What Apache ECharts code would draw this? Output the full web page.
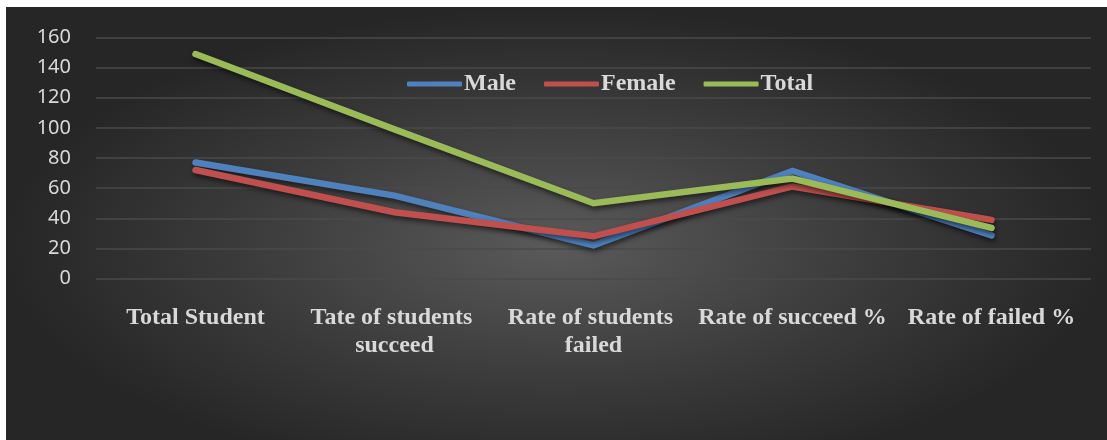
<!DOCTYPE html>
<html lang="en">
<head>
    <meta charset="UTF-8">
    <title>Students chart</title>
    <script src="https://cdn.jsdelivr.net/npm/echarts@6/dist/echarts.min.js"></script>
    <style>
        html, body { margin: 0; padding: 0; background: #ffffff; }
        #box {
            position: absolute; left: 6px; top: 7px; width: 1101px; height: 433px;
            background: radial-gradient(ellipse farthest-side at 50% 55%, #5a5a5a 0%, #3c3c3c 55%, #262626 100%);
        }
    </style>
</head>
<body>
<div id="box"></div>
<script>
    // categories and values
    var categories = ['Total Student', 'Tate of students succeed', 'Rate of students failed', 'Rate of succeed %', 'Rate of failed %'];
    var maleData = [77, 55, 22, 71.4, 28.6];
    var femaleData = [72, 44, 28, 61.1, 38.9];
    var totalData = [149, 99, 50, 66.4, 33.6];
    var yTicks = [0, 20, 40, 60, 80, 100, 120, 140, 160];

    function makeLine(name, data, color) {
        return {
            name: name,
            type: 'line',
            data: data,
            symbol: 'none',
            lineStyle: {
                width: 6.5,
                color: color,
                cap: 'round',
                join: 'miter',
                shadowColor: 'rgba(0,0,0,0.55)',
                shadowBlur: 5,
                shadowOffsetY: 3,
                shadowOffsetX: 1
            },
            itemStyle: { color: color }
        };
    }

    var chart = echarts.init(document.getElementById('box'));
    chart.setOption({
        backgroundColor: 'transparent',
        animation: false,
        legend: {
            top: 60,
            left: 396,
            itemWidth: 55,
            itemHeight: 5,
            itemGap: 28,
            icon: 'roundRect',
            textStyle: {
                color: '#d9d9d9',
                fontFamily: 'Liberation Serif',
                fontWeight: 'bold',
                fontSize: 24,
                padding: [0, 0, 0, -3]
            },
            data: [
                { name: 'Male', itemStyle: { color: '#4f81bd' } },
                { name: 'Female', itemStyle: { color: '#c0504d' } },
                { name: 'Total', itemStyle: { color: '#9bbb59' } }
            ]
        },
        grid: { left: 90, right: 16, top: 30.5, bottom: 161.5 },
        xAxis: {
            type: 'category',
            data: categories,
            axisLine: { show: false },
            axisTick: { show: false },
            axisLabel: {
                color: '#d9d9d9',
                fontFamily: 'Liberation Serif',
                fontWeight: 'bold',
                fontSize: 24,
                margin: 25,
                lineHeight: 28,
                width: 196,
                overflow: 'break',
                interval: 0
            }
        },
        yAxis: {
            type: 'value',
            min: yTicks[0],
            max: yTicks[yTicks.length - 1],
            interval: 20,
            axisLine: { show: false },
            axisTick: { show: false },
            axisLabel: {
                color: '#d9d9d9',
                fontFamily: 'Noto Sans',
                fontSize: 20,
                margin: 25
            },
            splitLine: { lineStyle: { color: '#4a4a4a', width: 1.5 } }
        },
        series: [
            makeLine('Male', maleData, '#4f81bd'),
            makeLine('Female', femaleData, '#c0504d'),
            makeLine('Total', totalData, '#9bbb59')
        ]
    });
</script>
</body>
</html>
